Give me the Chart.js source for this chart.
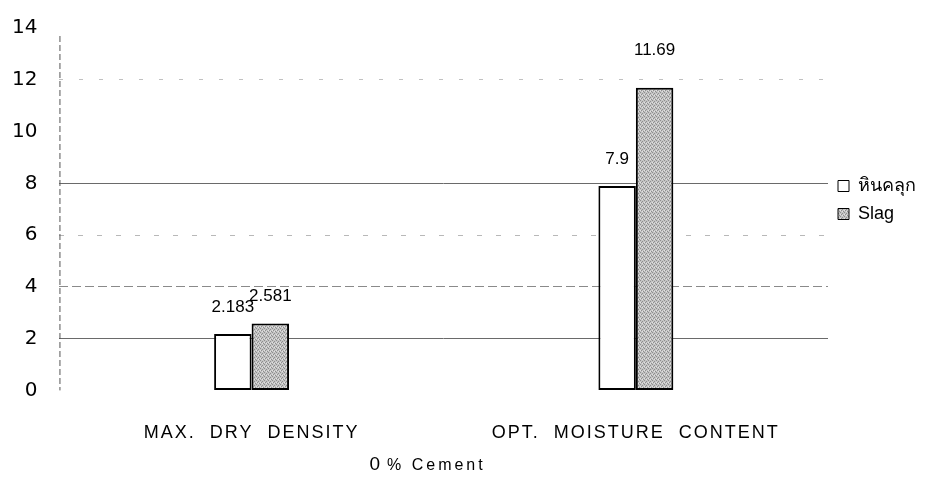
<!DOCTYPE html>
<html>
<head>
<meta charset="utf-8">
<script src="https://cdn.jsdelivr.net/npm/chart.js@4/dist/chart.umd.min.js"></script>
<style>
  html, body { margin: 0; padding: 0; background: #fff; }
  #wrap { width: 942px; height: 486px; position: relative; }
</style>
</head>
<body>
<div id="wrap"><canvas id="c"></canvas></div>
<script>
// chart data
const categories = ['MAX.  DRY  DENSITY', 'OPT.  MOISTURE  CONTENT'];
const seriesNames = ['หินคลุก', 'Slag'];
const crushedRock = [2.183, 7.9];
const slag = [2.581, 11.69];
const yTicks = [0, 2, 4, 6, 8, 10, 12, 14];

const FONT = '"Liberation Sans", Arial, sans-serif';

// gray stipple for the slag bars
function stipple() {
    const p = document.createElement('canvas');
    p.width = 4; p.height = 4;
    const g = p.getContext('2d');
    g.fillStyle = '#c4c4c4';
    g.fillRect(0, 0, 4, 4);
    g.fillStyle = '#8e8e8e';
    g.fillRect(0, 0, 1, 1);
    g.fillRect(2, 1, 1, 1);
    g.fillRect(1, 2, 1, 1);
    g.fillRect(3, 3, 1, 1);
    g.fillStyle = '#e2e2e2';
    g.fillRect(2, 3, 1, 1);
    g.fillRect(0, 2, 1, 1);
    return g.createPattern(p, 'repeat');
}

// faded scan look of the grid lines
const gridColor = {
    2: '#6a6a6a', 4: '#8a8a8a', 6: '#b8b8b8', 8: '#6a6a6a', 12: '#c0c0c0'
};
const gridDash = {
    2: [], 4: [9, 4], 6: [5, 14], 8: [], 12: [4, 16]
};

const extras = {
    id: 'extras',
    beforeDatasetsDraw(chart) {
        // dashed y axis line, as in the scan
        const { ctx, chartArea } = chart;
        ctx.save();
        ctx.strokeStyle = '#555';
        ctx.lineWidth = 1;
        ctx.setLineDash([6, 3]);
        ctx.beginPath();
        ctx.moveTo(chartArea.left + 0.5, chartArea.top + 8);
        ctx.lineTo(chartArea.left + 0.5, chartArea.bottom);
        ctx.stroke();
        ctx.restore();
    },
    afterDatasetsDraw(chart) {
        const ctx = chart.ctx;
        ctx.save();
        ctx.font = '17px ' + FONT;
        ctx.fillStyle = '#000';
        ctx.textAlign = 'center';
        ctx.textBaseline = 'middle';
        chart.data.datasets.forEach((ds, i) => {
            chart.getDatasetMeta(i).data.forEach((bar, j) => {
                const off = ds.data[j] > 10 ? 37 : 27;
                ctx.fillText(String(ds.data[j]), bar.x, bar.y - off);
            });
        });
        ctx.restore();
        // x tick labels (ticks.z: 1) are drawn next: spread their letters like the original
        ctx.letterSpacing = '2px';
    },
    afterDraw(chart) {
        const { ctx, chartArea } = chart;
        // axis caption "0 % Cement"
        ctx.save();
        ctx.fillStyle = '#000';
        ctx.textBaseline = 'middle';
        ctx.textAlign = 'left';
        let x = chartArea.left + 310;
        const y = chartArea.bottom + 74;
        ctx.letterSpacing = '0px';
        ctx.font = '19px ' + FONT;
        ctx.fillText('0', x, y);
        x += ctx.measureText('0').width + 7;
        ctx.letterSpacing = '3px';
        ctx.font = '16px ' + FONT;
        ctx.fillText('% Cement', x, y + 1);
        ctx.restore();
        ctx.letterSpacing = '0px';
    }
};

new Chart(document.getElementById('c'), {
    type: 'bar',
    data: {
        labels: categories,
        datasets: [
            {
                label: seriesNames[0],
                data: crushedRock,
                backgroundColor: '#ffffff',
                borderColor: '#000',
                borderWidth: 2,
                borderSkipped: false
            },
            {
                label: seriesNames[1],
                data: slag,
                backgroundColor: stipple(),
                borderColor: '#000',
                borderWidth: 2,
                borderSkipped: false
            }
        ]
    },
    options: {
        responsive: true,
        maintainAspectRatio: false,
        animation: false,
        layout: { padding: { top: 28, right: 16, left: -10, bottom: 18 } },
        datasets: { bar: { categoryPercentage: 0.195, barPercentage: 1 } },
        scales: {
            x: {
                grid: { display: false },
                border: { display: false },
                ticks: {
                    z: 1,
                    color: '#000',
                    padding: 24,
                    font: { family: FONT, size: 18 }
                }
            },
            y: {
                min: 0,
                max: 14,
                afterBuildTicks: axis => { axis.ticks = yTicks.map(v => ({ value: v })); },
                // tick padding is only wanted sideways, not above the top label
                afterFit: axis => { axis.paddingTop = 12; },
                grid: {
                    drawTicks: false,
                    lineWidth: 1,
                    color: c => gridColor[c.tick.value] || 'rgba(0,0,0,0)'
                },
                border: {
                    display: false,
                    dash: c => (c.tick && gridDash[c.tick.value]) || []
                },
                ticks: {
                    color: '#000',
                    padding: 22,
                    font: { family: '"DejaVu Sans", Verdana, sans-serif', size: 20 }
                }
            }
        },
        plugins: {
            legend: {
                position: 'right',
                align: 'start',
                // empty title only pushes the two entries down to mid-height
                title: { display: true, text: '', font: { size: 10 }, padding: { top: 127, bottom: 0 } },
                labels: {
                    color: '#000',
                    boxWidth: 11,
                    boxHeight: 11,
                    padding: 10,
                    font: { family: FONT, size: 18 },
                    generateLabels: chart => chart.data.datasets.map((ds, i) => ({
                        text: ds.label,
                        fillStyle: ds.backgroundColor,
                        strokeStyle: '#000',
                        lineWidth: 1,
                        fontColor: '#000',
                        datasetIndex: i
                    }))
                }
            },
            tooltip: { enabled: false }
        }
    },
    plugins: [extras]
});
</script>
</body>
</html>
